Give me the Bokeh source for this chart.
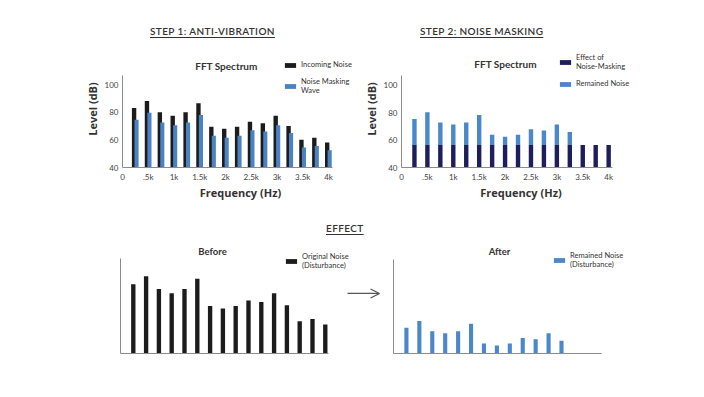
from bokeh.plotting import figure
from bokeh.models import (Range1d, FixedTicker, Legend, LegendItem, Label, Arrow,
                          OpenHead, Div, Spacer, ColumnDataSource)
from bokeh.layouts import column, row
from bokeh.transform import dodge
from bokeh.embed import file_html
from bokeh.resources import INLINE

# ---------------- data ----------------
freqs = [250, 500, 750, 1000, 1250, 1500, 1750, 2000,
         2250, 2500, 2750, 3000, 3250, 3500, 3750, 4000]
incoming_noise = [83, 88, 80, 77.5, 80, 86.5, 69.5, 68,
                  69.5, 73, 72, 77.5, 70, 60, 61.5, 58]
masking_wave = [74.5, 79.5, 72.5, 70.5, 72.5, 78, 63, 61.5,
                63, 67, 66, 70.5, 65, 54.5, 55.5, 52.5]
masking_effect = [56.5, 56.5, 56.5, 56.5, 56.5, 56.5, 56.5, 56.5,
                  56.5, 56.5, 56.5, 56.5, 56.5, 56.5, 56.5, 56.5]
remained_noise = [19, 24, 16.5, 15, 16.5, 22, 7.5, 6,
                  7.5, 11.5, 10.5, 15, 9.5, 0, 0, 0]
x_ticks = [0, 500, 1000, 1500, 2000, 2500, 3000, 3500, 4000]
x_tick_labels = ["0", ".5k", "1k", "1.5k", "2k", "2.5k", "3k", "3.5k", "4k"]
y_ticks = [40, 60, 80, 100]

FONT = "Lato"
LABEL_FONT = "Open Sans"
TXT = "#333333"
AXIS = "#8c8c8c"
BLACK = "#1c1c1c"
BLUE = "#4a82c3"
NAVY = "#1e1e5c"
LBLUE = "#4b88c9"

src = ColumnDataSource(dict(
    freq=freqs,
    incoming=incoming_noise,
    wave=masking_wave,
    effect=masking_effect,
    remained=remained_noise,
    total=[e + r for e, r in zip(masking_effect, remained_noise)],
))


def base_fig(width, height, xr, yr, left, right, top, bottom):
    p = figure(width=width, height=height, x_range=Range1d(*xr), y_range=Range1d(*yr),
               output_backend="svg", toolbar_location=None,
               min_border_left=left, min_border_right=right,
               min_border_top=top, min_border_bottom=bottom)
    p.grid.visible = False
    p.outline_line_color = None
    p.background_fill_color = "white"
    p.border_fill_color = "white"
    for ax in (p.xaxis[0], p.yaxis[0]):
        ax.axis_line_color = AXIS
        ax.axis_line_width = 1
        ax.major_tick_line_color = None
        ax.minor_tick_line_color = None
        ax.major_tick_out = 0
        ax.major_tick_in = 0
        ax.minor_tick_out = 0
        ax.major_label_text_font = FONT
        ax.major_label_text_font_size = "8px"
        ax.major_label_text_color = "#444444"
        ax.axis_label_text_font = LABEL_FONT
        ax.axis_label_text_font_size = "11px"
        ax.axis_label_text_font_style = "bold"
        ax.axis_label_text_color = TXT
    return p


def fft_axes(p, ybound, xbound):
    p.xaxis.ticker = FixedTicker(ticks=x_ticks, minor_ticks=[])
    p.xaxis.major_label_overrides = dict(zip(x_ticks, x_tick_labels))
    p.yaxis.ticker = FixedTicker(ticks=y_ticks, minor_ticks=[])
    p.xaxis.bounds = xbound
    p.yaxis.bounds = ybound
    p.xaxis.axis_label = "Frequency (Hz)"
    p.yaxis.axis_label = "Level (dB)"
    p.xaxis.major_label_standoff = 4
    p.yaxis.major_label_standoff = 4
    p.xaxis.axis_label_standoff = 0
    p.yaxis.axis_label_standoff = 2


def style_legend(leg, loc):
    leg.location = loc
    leg.padding = 0
    leg.margin = 0
    leg.spacing = 8
    leg.border_line_color = None
    leg.background_fill_alpha = 0
    leg.glyph_width = 14
    leg.glyph_height = 6
    leg.label_standoff = 4
    leg.label_height = 7
    leg.label_text_font = FONT
    leg.label_text_font_size = "7.5px"
    leg.label_text_color = TXT
    leg.label_text_line_height = 1.0


def no_ticks(p):
    p.xaxis.ticker = FixedTicker(ticks=[], minor_ticks=[])
    p.yaxis.ticker = FixedTicker(ticks=[], minor_ticks=[])


# ---------------- step 1 ----------------
p1 = base_fig(352, 171, (0, 4583), (40, 124.6), 114, 2, 8, 46)
fft_axes(p1, (40, 106.5), (0, 4080))
r_in = p1.vbar(x=dodge("freq", -25), width=85, bottom=40, top="incoming",
               source=src, fill_color=BLACK, line_color=None)
r_wave = p1.vbar(x=dodge("freq", 23), width=80, bottom=40, top="wave",
                 source=src, fill_color=BLUE, line_color=None)
p1.add_layout(Label(x=2019, y=113.7, text="FFT Spectrum", text_align="center",
                    text_baseline="middle", text_font=FONT, text_font_size="10px",
                    text_font_style="bold", text_color=TXT))
leg1 = Legend(items=[LegendItem(label="Incoming Noise", renderers=[r_in]),
                     LegendItem(label="Noise Masking\nWave", renderers=[r_wave])])
style_legend(leg1, (161, 72))
p1.add_layout(leg1)

# ---------------- step 2 ----------------
p2 = base_fig(336, 171, (0, 4615), (40, 125.6), 40, 56, 8, 46)
fft_axes(p2, (40, 107), (0, 4080))
r_eff = p2.vbar(x="freq", width=85, bottom=40, top="effect", source=src,
                fill_color=NAVY, line_color=None)
r_rem = p2.vbar(x="freq", width=85, bottom="effect", top="total", source=src,
                fill_color=LBLUE, line_color=None)
p2.add_layout(Label(x=2010, y=115.6, text="FFT Spectrum", text_align="center",
                    text_baseline="middle", text_font=FONT, text_font_size="10px",
                    text_font_style="bold", text_color=TXT))
leg2 = Legend(items=[LegendItem(label="Effect of\nNoise-Masking", renderers=[r_eff]),
                     LegendItem(label="Remained Noise", renderers=[r_rem])])
style_legend(leg2, (157, 79))
p2.add_layout(leg2)

# ---------------- effect: before ----------------
p3 = base_fig(377, 149, (0, 5176), (40, 107.1), 112, 0, 5, 36)
no_ticks(p3)
p3.xaxis.bounds = (0, 4060)
p3.yaxis.bounds = (40, 99)
r_before = p3.vbar(x="freq", width=85, bottom=40, top="incoming", source=src,
                   fill_color=BLACK, line_color=None)
p3.add_layout(Label(x=1797, y=103.4, text="Before", text_align="center",
                    text_baseline="middle", text_font=FONT, text_font_size="9.5px",
                    text_font_style="bold", text_color=TXT))
leg3 = Legend(items=[LegendItem(label="Original Noise\n(Disturbance)", renderers=[r_before])])
style_legend(leg3, (164, 83))
p3.add_layout(leg3)
p3.add_layout(Arrow(end=OpenHead(size=9, line_color="#555555", line_width=1.3),
                    x_start=4434, y_start=77.3, x_end=5059, y_end=77.3,
                    line_color="#555555", line_width=1.3))

# ---------------- effect: after ----------------
p4 = base_fig(311, 149, (0, 4778), (0, 80), 8, 56, 5, 36)
no_ticks(p4)
p4.xaxis.bounds = (0, 4030)
p4.yaxis.bounds = (0, 70)
r_after = p4.vbar(x="freq", width=80, bottom=0, top="remained", source=src,
                  fill_color=LBLUE, line_color=None)
p4.add_layout(Label(x=2050, y=75.6, text="After", text_align="center",
                    text_baseline="middle", text_font=FONT, text_font_size="9.5px",
                    text_font_style="bold", text_color=TXT))
leg4 = Legend(items=[LegendItem(label="Remained Noise\n(Disturbance)", renderers=[r_after])])
style_legend(leg4, (159, 84))
p4.add_layout(leg4)


# ---------------- titles ----------------
def title_div(text, width, height, pad):
    html = ('<div style="font-family:Lato;font-size:10px;line-height:12px;font-weight:600;'
            'color:#333;text-align:center;text-decoration:underline;'
            'text-underline-offset:2px;letter-spacing:0.4px;padding-top:%dpx;">%s</div>'
            % (pad, text))
    return Div(text=html, width=width, height=height, margin=0)


top_titles = row(Spacer(width=150, height=42),
                 title_div("STEP 1: ANTI-VIBRATION", 154, 42, 25),
                 Spacer(width=116, height=42),
                 title_div("STEP 2: NOISE MASKING", 160, 42, 25))
effect_title = row(Spacer(width=326, height=27), title_div("EFFECT", 80, 27, 9))

body = column(top_titles,
              row(Spacer(width=8, height=171), p1, p2),
              effect_title,
              row(Spacer(width=8, height=149), p3, p4))

open("out.html", "w").write(file_html(body, INLINE))
